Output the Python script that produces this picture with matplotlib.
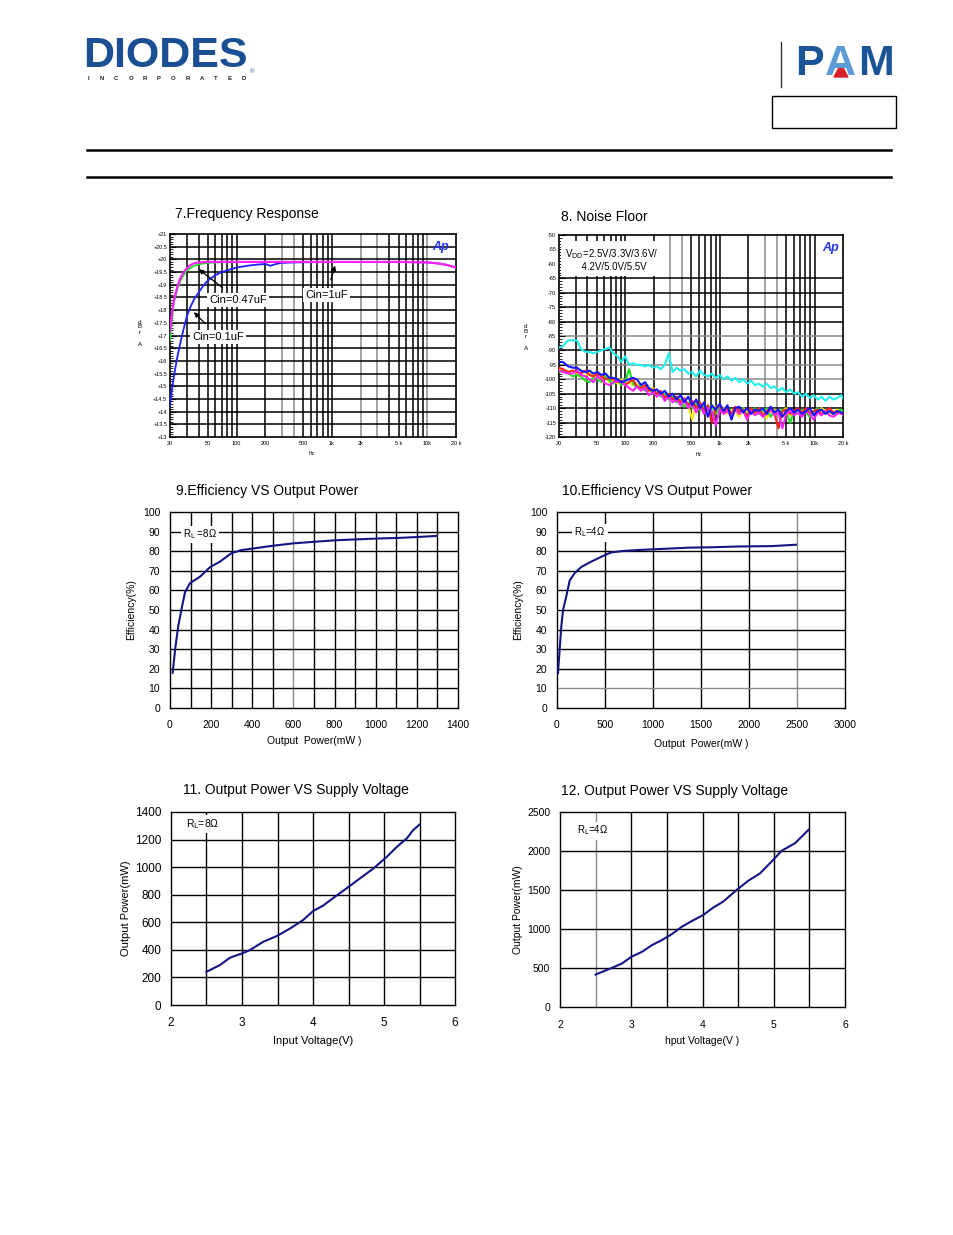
import matplotlib
matplotlib.use("Agg")
import matplotlib.pyplot as plt
from matplotlib.lines import Line2D
from matplotlib.patches import Rectangle, Polygon
from matplotlib.ticker import MultipleLocator, FixedLocator, NullLocator

plt.rcParams['font.family'] = ['Liberation Sans', 'DejaVu Sans']

W, H = 954, 1235

# ---------------- data ----------------
# 7. frequency response (Hz, dB)
fr_f_1u = [20, 21, 22, 24, 26, 28, 30, 33, 36, 40, 50, 100, 1000, 5000, 10000, 13000, 16000, 20000]
fr_v_1u = [17.15, 17.9, 18.4, 18.95, 19.3, 19.5, 19.65, 19.78, 19.85, 19.88, 19.9, 19.9, 19.9, 19.9, 19.88, 19.84, 19.78, 19.68]
fr_f_047u = [20, 21, 22, 24, 26, 28, 30, 33, 36, 40, 45, 50, 60, 100, 1000]
fr_v_047u = [16.8, 17.7, 18.3, 18.85, 19.2, 19.4, 19.55, 19.67, 19.75, 19.8, 19.84, 19.86, 19.88, 19.9, 19.9]
fr_f_01u = [20, 21, 22, 24, 26, 28, 30, 33, 36, 40, 45, 50, 60, 70, 85, 100, 130, 160, 200, 225, 250, 290, 400, 1000, 5000, 10000, 13000, 16000, 20000]
fr_v_01u = [14.2, 14.9, 15.4, 16.2, 16.8, 17.3, 17.75, 18.15, 18.45, 18.7, 18.98, 19.17, 19.38, 19.5, 19.6, 19.68, 19.75, 19.79, 19.82, 19.75, 19.8, 19.86, 19.88, 19.9, 19.9, 19.88, 19.84, 19.78, 19.68]

# 8. noise floor (Hz, dBrA)
nf_f = [20, 22, 25, 28, 31, 34, 38, 42, 46, 51,
        56, 62, 68, 75, 83, 91, 100, 110, 121, 133,
        147, 162, 178, 196, 216, 238, 262, 288, 317, 349,
        384, 422, 464, 511, 562, 618, 680, 748, 823, 905,
        996, 1096, 1205, 1326, 1458, 1604, 1765, 1941, 2135, 2349,
        2584, 2842, 3126, 3439, 3783, 4161, 4577, 5035, 5538, 6092,
        6701, 7371, 8108, 8919, 9811, 10792, 11871, 13058, 14364, 15800,
        17380, 19118, 20000]
nf_cyan = [-89, -88.5, -86.5, -86.5, -86.5, -89.5, -90.5, -90.5, -91, -90.5,
           -90, -89.5, -89, -91, -92, -94, -92, -95, -94.5, -95,
           -95, -95.5, -95, -96, -95.5, -96.5, -95, -91, -97.5, -96,
           -97, -96.5, -98, -97.5, -99, -97, -98.5, -99, -98, -99.5,
           -98.5, -100, -99, -100.5, -99.5, -101, -100, -101.5, -100.5, -102,
           -101.5, -102.5, -101.5, -103, -102.5, -104, -103, -104.5, -103.5, -105,
           -104.5, -106, -105, -106.5, -105.5, -107, -106, -107.5, -106, -107,
           -106.5, -105.5, -106.5]
nf_yellow = [-96.5, -97, -97.5, -97, -98, -98.5, -99, -97.5, -98.5, -99.5,
             -100, -99, -101, -100.5, -101.5, -100, -102, -101, -102, -101.5,
             -103, -102.5, -104, -103, -105, -104.5, -106, -105.5, -107, -106.5,
             -108, -107, -109, -114, -108, -110, -109, -111, -110, -109.5,
             -111, -110, -112, -110.5, -111, -113, -110, -111.5, -110.5, -112,
             -111, -110, -113.5, -111, -110.5, -112, -111, -110, -112.5, -111,
             -110.5, -112, -111, -110.5, -112, -111.5, -110, -111, -112, -111.5,
             -110.5, -111, -111.5]
nf_green = [-97.5, -97, -98, -99, -98.5, -99, -100.5, -101, -99.5, -100,
            -101, -99, -100.5, -101.5, -100, -102, -101, -96.5, -101.5, -103,
            -102, -104, -103, -105, -104.5, -106, -105, -107, -106, -108,
            -107, -109.5, -108, -110, -108.5, -111, -109.5, -110.5, -109, -112,
            -110, -111, -109.5, -112, -110.5, -111.5, -110, -112.5, -111, -110,
            -112, -111, -110, -113, -111, -112, -110.5, -111.5, -115, -111,
            -112, -110.5, -111.5, -113, -111, -110, -112, -111.5, -110.5, -112,
            -111.5, -110.5, -111]
nf_red = [-96, -96.5, -97.5, -97, -97.5, -98, -97, -98.5, -99, -98,
          -99, -100, -99.5, -100, -101, -100.5, -102, -101, -100, -102.5,
          -103, -102, -104, -103.5, -105, -104, -106.5, -105, -107, -106,
          -108, -106.5, -109, -107.5, -110, -108, -111, -109, -115, -110,
          -109, -111.5, -110, -112, -109.5, -111, -110.5, -113, -110, -111.5,
          -110, -112.5, -111, -110, -112, -117, -111, -110.5, -112, -111,
          -110, -111.5, -110, -112, -111, -110.5, -112, -111, -110, -111.5,
          -111, -112, -111.5]
nf_magenta = [-97, -97.5, -98, -98, -97, -98.5, -99, -100, -101, -99,
              -100, -101.5, -102, -101, -100.5, -101, -102, -103, -104, -102.5,
              -104, -103, -105.5, -104.5, -106, -105, -107.5, -106, -108, -107,
              -109, -107, -110, -108.5, -111.5, -109, -112, -110, -111, -116,
              -110.5, -112, -111, -113, -110.5, -112, -111, -114, -111, -112.5,
              -111.5, -113, -112, -110.5, -112.5, -111.5, -117, -112, -111, -112.5,
              -111.5, -113, -111, -112, -114, -111.5, -112.5, -111, -112.5, -113,
              -112, -111.5, -112.5]
nf_blue = [-94, -94, -95.5, -96, -96, -97, -97.5, -97, -98, -97.5,
           -98.5, -98, -99.5, -99.5, -100, -101, -100.5, -100, -99.5, -100,
           -102, -101, -103, -104, -103.5, -105, -104, -106, -105, -107,
           -105.5, -108, -106, -109, -107, -110, -108, -113, -109, -110.5,
           -108.5, -111, -109, -114, -110, -109.5, -111.5, -110, -112, -110.5,
           -111, -110, -112, -109.5, -111.5, -110.5, -113, -111, -110, -111.5,
           -110.5, -112, -111, -110, -112.5, -111, -110.5, -112, -111, -112,
           -111, -111.5, -112]

# 9. efficiency, RL = 8 ohm
eff8_p = [13, 25, 40, 57, 73, 97, 146, 194, 243, 299, 348, 405, 502, 599, 728, 809, 922, 1019, 1117, 1214, 1298]
eff8_e = [18, 30, 41.7, 51, 59, 63.7, 67, 71.8, 74.7, 79, 80.6, 81.4, 82.8, 84, 85, 85.6, 86.1, 86.5, 86.8, 87.3, 87.8]
# 10. efficiency, RL = 4 ohm
eff4_p = [10, 28, 45, 63, 97, 132, 184, 254, 358, 497, 567, 706, 845, 1018, 1366, 1609, 1887, 2235, 2489]
eff4_e = [17.7, 30, 41.7, 50, 57, 65, 68.8, 72, 74.7, 78, 79.4, 80.2, 80.6, 81, 81.8, 82, 82.4, 82.6, 83.3]
# 11. output power vs supply, RL = 8 ohm
pv8_v = [2.5, 2.69, 2.83, 3.0, 3.11, 3.3, 3.49, 3.68, 3.86, 4.0, 4.14, 4.29, 4.47, 4.66, 4.85, 5.04, 5.18, 5.32, 5.41, 5.5]
pv8_p = [241, 290, 343, 374, 398, 459, 500, 556, 616, 681, 720, 778, 845, 918, 990, 1075, 1147, 1208, 1268, 1309]
# 12. output power vs supply, RL = 4 ohm
pv4_v = [2.5, 2.73, 2.87, 3.0, 3.15, 3.29, 3.43, 3.57, 3.71, 3.85, 4.01, 4.15, 4.29, 4.48, 4.64, 4.81, 4.97, 5.11, 5.3, 5.49]
pv4_p = [416, 502, 558, 643, 707, 793, 858, 935, 1029, 1102, 1179, 1274, 1351, 1501, 1617, 1715, 1865, 2002, 2101, 2273]

NAVY = '#141485'


def fx(x):
    return x / W


def fy(y):
    return 1 - y / H


def px_axes(fig, l, t, r, b):
    return fig.add_axes([l / W, 1 - b / H, (r - l) / W, (b - t) / H])


def log_chart(ax, ylo, yhi, ystep, yminor, gray_x, gray_y, hide_y=()):
    ax.set_xscale('log')
    ax.set_xlim(20, 20000)
    ax.set_ylim(ylo, yhi)
    for dec in [10, 100, 1000, 10000]:
        for k in range(1, 10):
            v = k * dec
            if 20 < v < 20000:
                c = '#8a8a8a' if v in gray_x else 'black'
                ax.axvline(v, color=c, lw=1.1, zorder=1)
    y = ylo + ystep
    while y < yhi - 1e-6:
        if round(y, 2) not in hide_y:
            c = '#8a8a8a' if round(y, 2) in gray_y else 'black'
            ax.axhline(y, color=c, lw=1.1, zorder=1)
        y += ystep
    ax.xaxis.set_major_locator(FixedLocator([20, 50, 100, 200, 500, 1000, 2000, 5000, 10000, 20000]))
    ax.xaxis.set_minor_locator(NullLocator())
    ax.set_xticklabels(['20', '50', '100', '200', '500', '1k', '2k', '5 k', '10k', '20 k'])
    ax.yaxis.set_major_locator(MultipleLocator(ystep))
    ax.yaxis.set_minor_locator(MultipleLocator(yminor))
    ax.tick_params(axis='x', length=0, labelsize=4, pad=3)
    ax.tick_params(axis='y', which='major', direction='in', length=4, width=0.8, labelsize=4, pad=2)
    ax.tick_params(axis='y', which='minor', direction='in', length=2, width=0.6)
    for s in ax.spines.values():
        s.set_linewidth(1.2)


def lin_chart(ax, xlim, ylim, xgrid, ygrid, xticks, yticks, gray_x=(), gray_y=(), fs=7.5):
    ax.set_xlim(*xlim)
    ax.set_ylim(*ylim)
    for v in xgrid:
        c = '#8a8a8a' if v in gray_x else 'black'
        ax.axvline(v, color=c, lw=1.0, zorder=1)
    for v in ygrid:
        c = '#8a8a8a' if v in gray_y else 'black'
        ax.axhline(v, color=c, lw=1.0, zorder=1)
    ax.set_xticks(xticks)
    ax.set_yticks(yticks)
    ax.tick_params(length=0, labelsize=fs)
    ax.tick_params(axis='x', pad=9)
    ax.tick_params(axis='y', pad=7)
    for s in ax.spines.values():
        s.set_linewidth(1.0)


def stacked_label(x, y):
    # vertical "d B r A" unit label of the Audio Precision plots
    for ch, dy in [('d', -9), ('B', -5), ('r', 1), ('A', 12)]:
        fig.text(fx(x), fy(y + dy), ch, fontsize=4.5, ha='center', va='center')


fig = plt.figure(figsize=(W / 100, H / 100), dpi=100)

# ---------------- header ----------------
fig.text(fx(83), fy(56), 'DIODES', fontsize=31, fontweight='bold', color='#1b4f93',
         ha='left', va='center')
for i, ch in enumerate('INCORPORATED'):
    fig.text(fx(88 + i * 14.2), fy(79), ch, fontsize=4.3, fontweight='bold',
             color='#222222', ha='center', va='center')
fig.text(fx(250), fy(72), '®', fontsize=4.5, color='#1b4f93', ha='left', va='center')
fig.add_artist(Line2D([fx(781), fx(781)], [fy(42), fy(87)], color='#333333', lw=1.0))
fig.text(fx(795), fy(64), 'P', fontsize=31, fontweight='bold', color='#1b5496', ha='left', va='center')
fig.text(fx(825), fy(64), 'A', fontsize=31, fontweight='bold', color='#5d9bd6', ha='left', va='center')
fig.text(fx(858), fy(64), 'M', fontsize=31, fontweight='bold', color='#1b5496', ha='left', va='center')
fig.add_artist(Polygon([[fx(834), fy(77)], [fx(848), fy(77)], [fx(841), fy(64)]],
                       closed=True, color='#d8202a', transform=fig.transFigure))
fig.add_artist(Rectangle((fx(772), fy(128)), (896 - 772) / W, (128 - 96) / H,
                         transform=fig.transFigure, fill=False, lw=1.0, color='black'))
for yy in [150, 177]:
    fig.add_artist(Line2D([fx(87), fx(891)], [fy(yy), fy(yy)], color='black', lw=1.8))

# ---------------- 7. frequency response ----------------
ax7 = px_axes(fig, 170, 234, 456, 437)
log_chart(ax7, 13, 21, 0.5, 0.1, gray_x={300, 400, 2000, 3000, 10000}, gray_y=set())
ax7.yaxis.set_major_formatter(lambda v, p: '%+g' % v)
ax7.plot(fr_f_01u, fr_v_01u, color='#2020ff', lw=1.3, zorder=3)
ax7.plot(fr_f_047u, fr_v_047u, color='#22dd22', lw=1.3, zorder=3)
ax7.plot(fr_f_1u, fr_v_1u, color='#ff22ff', lw=1.6, zorder=4)
box = dict(facecolor='white', edgecolor='none', pad=1.5)
arr = dict(arrowstyle='-|>', color='black', lw=0.9, mutation_scale=7)
ax7.annotate('Cin=0.47uF', xy=(38, 19.68), xytext=(104, 18.4), fontsize=8, ha='center',
             va='center', bbox=box, arrowprops=dict(arr, shrinkA=6), zorder=6)
ax7.annotate('Cin=1uF', xy=(1100, 19.86), xytext=(870, 18.6), fontsize=8, ha='center',
             va='center', bbox=box, arrowprops=dict(arr, shrinkA=6), zorder=6)
ax7.annotate('Cin=0.1uF', xy=(34, 18.0), xytext=(64, 16.95), fontsize=8, ha='center',
             va='center', bbox=box, arrowprops=dict(arr, shrinkA=6), zorder=6)
ax7.text(0.975, 0.965, 'Ap', transform=ax7.transAxes, fontsize=9, fontweight='bold',
         style='italic', color='#2233ee', ha='right', va='top', zorder=6)
fig.text(fx(175), fy(214), '7.Frequency Response', fontsize=10, ha='left', va='center')
stacked_label(140, 332)
fig.text(fx(312), fy(453), 'Hz', fontsize=3.5, ha='center', va='center')

# ---------------- 8. noise floor ----------------
ax8 = px_axes(fig, 559, 235, 843, 437)
log_chart(ax8, -120, -50, 5, 1, gray_x={300, 400, 3000, 4000}, gray_y={-95, -100, -85},
          hide_y={-55, -60})
ax8.yaxis.set_major_formatter(lambda v, p: '%g' % v)
for vals, col in [(nf_yellow, '#ffee00'), (nf_green, '#22dd22'), (nf_red, '#ff2020'),
                  (nf_magenta, '#ff22ff'), (nf_cyan, '#22eeee'), (nf_blue, '#1414ff')]:
    ax8.plot(nf_f, vals, color=col, lw=1.5, zorder=3)
ax8.text(23, -58.5, 'V$_{\\mathrm{DD}}$=2.5V/3.3V/3.6V/\n      4.2V/5.0V/5.5V', fontsize=7,
         ha='left', va='center', linespacing=1.1, zorder=6,
         bbox=dict(facecolor='white', edgecolor='none', pad=3))
ax8.text(0.985, 0.965, 'Ap', transform=ax8.transAxes, fontsize=9, fontweight='bold',
         style='italic', color='#2233ee', ha='right', va='top', zorder=6)
fig.text(fx(561), fy(217), '8. Noise Floor', fontsize=10, ha='left', va='center')
stacked_label(526, 336)
fig.text(fx(699), fy(455), 'Hz', fontsize=3.5, ha='center', va='center')

# ---------------- 9. efficiency 8 ohm ----------------
ax9 = px_axes(fig, 170, 512, 458, 708)
lin_chart(ax9, (0, 1400), (0, 100), range(100, 1400, 100), range(10, 100, 10),
          range(0, 1401, 200), range(0, 101, 10), gray_x={600})
ax9.plot(eff8_p, eff8_e, color=NAVY, lw=1.5, zorder=3)
ax9.text(146, 88.5, 'R$_{\\mathrm{L}}$ =8Ω', fontsize=7, ha='center', va='center', zorder=5,
         bbox=dict(facecolor='white', edgecolor='none', pad=1.5))
ax9.set_xlabel('Output  Power(mW )', fontsize=7.5, labelpad=4)
ax9.set_ylabel('Efficiency(%)', fontsize=7.5, labelpad=5)
fig.text(fx(176), fy(491), '9.Efficiency VS Output Power', fontsize=10, ha='left', va='center')

# ---------------- 10. efficiency 4 ohm ----------------
ax10 = px_axes(fig, 557, 512, 845, 708)
lin_chart(ax10, (0, 3000), (0, 100), range(500, 3000, 500), range(10, 100, 10),
          range(0, 3001, 500), range(0, 101, 10), gray_x={2500}, gray_y={10})
ax10.plot(eff4_p, eff4_e, color=NAVY, lw=1.5, zorder=3)
ax10.text(344, 89.5, 'R$_{\\mathrm{L}}$=4Ω', fontsize=7, ha='center', va='center', zorder=5,
          bbox=dict(facecolor='white', edgecolor='none', pad=1.5))
ax10.set_xlabel('Output  Power(mW )', fontsize=7.5, labelpad=6)
ax10.set_ylabel('Efficiency(%)', fontsize=7.5, labelpad=5)
fig.text(fx(562), fy(491), '10.Efficiency VS Output Power', fontsize=10, ha='left', va='center')

# ---------------- 11. output power vs supply 8 ohm ----------------
ax11 = px_axes(fig, 171, 812, 455, 1005)
lin_chart(ax11, (2, 6), (0, 1400), [2.5, 3, 3.5, 4, 4.5, 5, 5.5], range(200, 1400, 200),
          [2, 3, 4, 5, 6], range(0, 1401, 200), fs=8.5)
ax11.plot(pv8_v, pv8_p, color=NAVY, lw=1.5, zorder=3)
ax11.text(2.44, 1312, 'R$_{\\mathrm{L}}$=8Ω', fontsize=7.5, ha='center', va='center', zorder=5,
          bbox=dict(facecolor='white', edgecolor='none', pad=1.5))
ax11.set_xlabel('Input Voltage(V)', fontsize=8, labelpad=5)
ax11.set_ylabel('Output Power(mW)', fontsize=8, labelpad=3)
fig.text(fx(183), fy(790), '11. Output Power VS Supply Voltage', fontsize=10, ha='left', va='center')

# ---------------- 12. output power vs supply 4 ohm ----------------
ax12 = px_axes(fig, 560, 812, 845, 1007)
lin_chart(ax12, (2, 6), (0, 2500), [2.5, 3, 3.5, 4, 4.5, 5, 5.5], range(500, 2500, 500),
          [2, 3, 4, 5, 6], range(0, 2501, 500), gray_x={2.5}, fs=7.5)
ax12.plot(pv4_v, pv4_p, color=NAVY, lw=1.5, zorder=3)
ax12.text(2.46, 2262, 'R$_{\\mathrm{L}}$=4Ω', fontsize=7, ha='center', va='center', zorder=5,
          bbox=dict(facecolor='white', edgecolor='none', pad=1.5))
ax12.set_xlabel('hput Voltage(V )', fontsize=7.5, labelpad=5)
ax12.set_ylabel('Output Power(mW)', fontsize=7.5, labelpad=3)
fig.text(fx(561), fy(791), '12. Output Power VS Supply Voltage', fontsize=10, ha='left', va='center')

fig.savefig('out.png', dpi=100)
